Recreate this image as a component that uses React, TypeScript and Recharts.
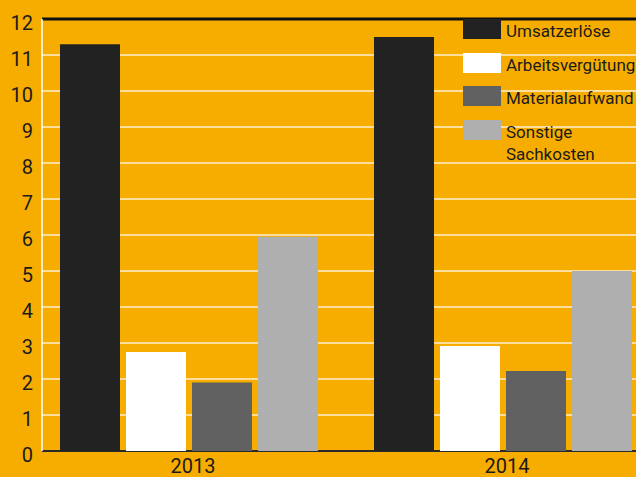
import { BarChart, Bar, XAxis, YAxis, CartesianGrid } from 'recharts';

// values (unit: Mio., roughly)
const years = ['2013', '2014'];
const umsatzerloese = [11.3, 11.5];
const arbeitsverguetung = [2.75, 2.92];
const materialaufwand = [1.9, 2.22];
const sonstigeSachkosten = [5.95, 5.0];

const seriesNames = ['Umsatzerlöse', 'Arbeitsvergütung', 'Materialaufwand', 'Sonstige Sachkosten'];
const seriesKeys = ['umsatz', 'arbeit', 'material', 'sonstige'];
const seriesColors = ['#222222', '#ffffff', '#616161', '#afafaf'];

const yTicks = [0, 1, 2, 3, 4, 5, 6, 7, 8, 9, 10, 11, 12];

const data = years.map((year, i) => ({
  year,
  umsatz: umsatzerloese[i],
  arbeit: arbeitsverguetung[i],
  material: materialaufwand[i],
  sonstige: sonstigeSachkosten[i],
}));

const ORANGE = '#f7ad00';
const TEXT = '#1b1b1b';

const gridLine = (props: any) => {
  const { x1, x2, y1, y2, index } = props;
  if (index === yTicks.length - 1) {
    return <line key={`h-${index}`} x1={x1} x2={x2} y1={y1} y2={y2} stroke="#111" strokeWidth={3} />;
  }
  if (index === 0) {
    return <line key={`h-${index}`} x1={x1} x2={x2} y1={y1} y2={y2} stroke="#2a2a2a" strokeWidth={2} />;
  }
  return <line key={`h-${index}`} x1={x1} x2={x2} y1={y1} y2={y2} stroke="#fff1cf" strokeWidth={1.6} />;
};

const axisLine = (props: any) => {
  const { x1, x2, y1, y2, index } = props;
  return <line key={`v-${index}`} x1={x1} x2={x2} y1={y1} y2={y2} stroke="#ffffff" strokeWidth={1.5} />;
};

const XTick = (props: any) => {
  const { x, y, payload } = props;
  return (
    <text x={x + 4} y={y} dy={22} textAnchor="middle" fill={TEXT} fontSize={20} fontFamily="Roboto, sans-serif">
      {payload.value}
    </text>
  );
};

const YTick = (props: any) => {
  const { x, y, payload } = props;
  return (
    <text x={x + 1} y={y + 3.5} dy="0.36em" textAnchor="end" fill={TEXT} fontSize={20} fontFamily="Roboto, sans-serif">
      {payload.value}
    </text>
  );
};

export default function App() {
  return (
    <div
      style={{
        position: 'fixed',
        left: 0,
        top: 0,
        width: 636,
        height: 477,
        overflow: 'hidden',
        background: ORANGE,
        fontFamily: 'Roboto, sans-serif',
      }}
    >
      <BarChart
        width={660}
        height={477}
        data={data}
        margin={{ top: 19, right: 0, bottom: 0, left: 0 }}
        barSize={60}
        barGap={6}
      >
        <CartesianGrid x={42} width={618} horizontal={gridLine} vertical={axisLine} verticalPoints={[42]} />
        <XAxis
          dataKey="year"
          height={26}
          axisLine={false}
          tickLine={false}
          tickSize={0}
          tickMargin={0}
          interval={0}
          tick={XTick}
        />
        <YAxis
          width={32}
          domain={[0, 12]}
          ticks={yTicks}
          interval={0}
          axisLine={false}
          tickLine={false}
          tickSize={0}
          tickMargin={0}
          tick={YTick}
        />
        {seriesKeys.map((key, i) => (
          <Bar key={key} dataKey={key} name={seriesNames[i]} fill={seriesColors[i]} isAnimationActive={false} />
        ))}
      </BarChart>

      <div style={{ position: 'absolute', left: 463, top: 19 }}>
        {seriesNames.map((name, i) => (
          <div
            key={name}
            style={{ position: 'absolute', top: i * 33.7, left: 0, display: 'flex', alignItems: 'flex-start' }}
          >
            <div style={{ width: 38, height: 20, background: seriesColors[i], flex: 'none' }} />
            <div
              style={{
                marginLeft: 5,
                width: 125,
                fontSize: 17,
                lineHeight: '22px',
                marginTop: 1,
                color: TEXT,
                whiteSpace: 'normal',
              }}
            >
              {name}
            </div>
          </div>
        ))}
      </div>
    </div>
  );
}
